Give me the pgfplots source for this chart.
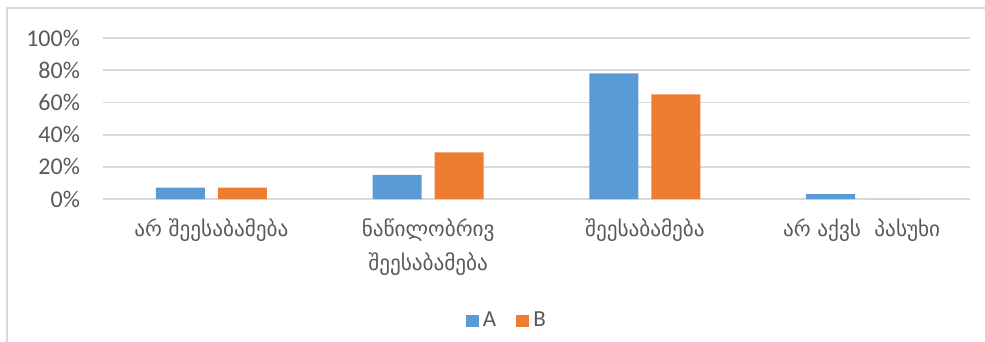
\documentclass[border=0pt]{standalone}
\usepackage{pgfplots}
\pgfplotsset{compat=1.18}
\usepackage{fontspec}
\setmainfont{Carlito}
\newfontfamily\geo{DejaVu Sans}
\definecolor{serA}{HTML}{5B9BD5}
\definecolor{serB}{HTML}{ED7D31}
\definecolor{gridc}{HTML}{D9D9D9}
\definecolor{txt}{HTML}{595959}
\begin{document}
\begin{tikzpicture}
\useasboundingbox (0,0) rectangle (492.5pt,-171pt);
% chart frame (left and top edges)
\draw[gridc, line width=1pt] (3.5pt,-171pt) -- (3.5pt,-4pt) -- (492.5pt,-4pt);
\begin{axis}[
  at={(51.5pt,-99.5pt)}, anchor=south west,
  scale only axis, width=433.5pt, height=80.5pt,
  ybar=6.5pt, bar width=24.5pt,
  xmin=-0.5, xmax=3.5, ymin=0, ymax=100,
  axis line style={draw=none},
  major tick length=0pt,
  ymajorgrids, grid style={gridc, line width=0.9pt},
  ytick={0,20,...,100},
  yticklabel={\pgfmathprintnumber{\tick}\%},
  /pgf/number format/assume math mode=true,
  yticklabel style={font=\fontsize{12}{14}\selectfont, text=txt},
  yticklabel shift=8pt,
  xtick={0,1,2,3},
  xticklabels={{არ შეესაბამება},{ნაწილობრივ\\შეესაბამება},{შეესაბამება},{არ აქვს\ \ პასუხი}},
  xticklabel style={font={\geo\fontsize{10.6}{17}\selectfont}, text=txt, align=center},
  xticklabel shift=6.5pt,
  legend style={at={(0.467,-0.758)}, anchor=center, draw=none, fill=none,
    legend columns=2, font=\fontsize{11.5}{13}\selectfont, text=txt,
    /tikz/every even column/.append style={column sep=8pt},
    inner sep=0pt},
  legend image code/.code={\fill[#1] (0pt,-3pt) rectangle (6.5pt,3pt);},
]
\addplot[fill=serA, draw=none] coordinates {(0,7) (1,15) (2,78) (3,3)};
\addplot[fill=serB, draw=none] coordinates {(0,7) (1,29) (2,65) (3,0)};
\legend{A, B}
\end{axis}
\end{tikzpicture}
\end{document}
